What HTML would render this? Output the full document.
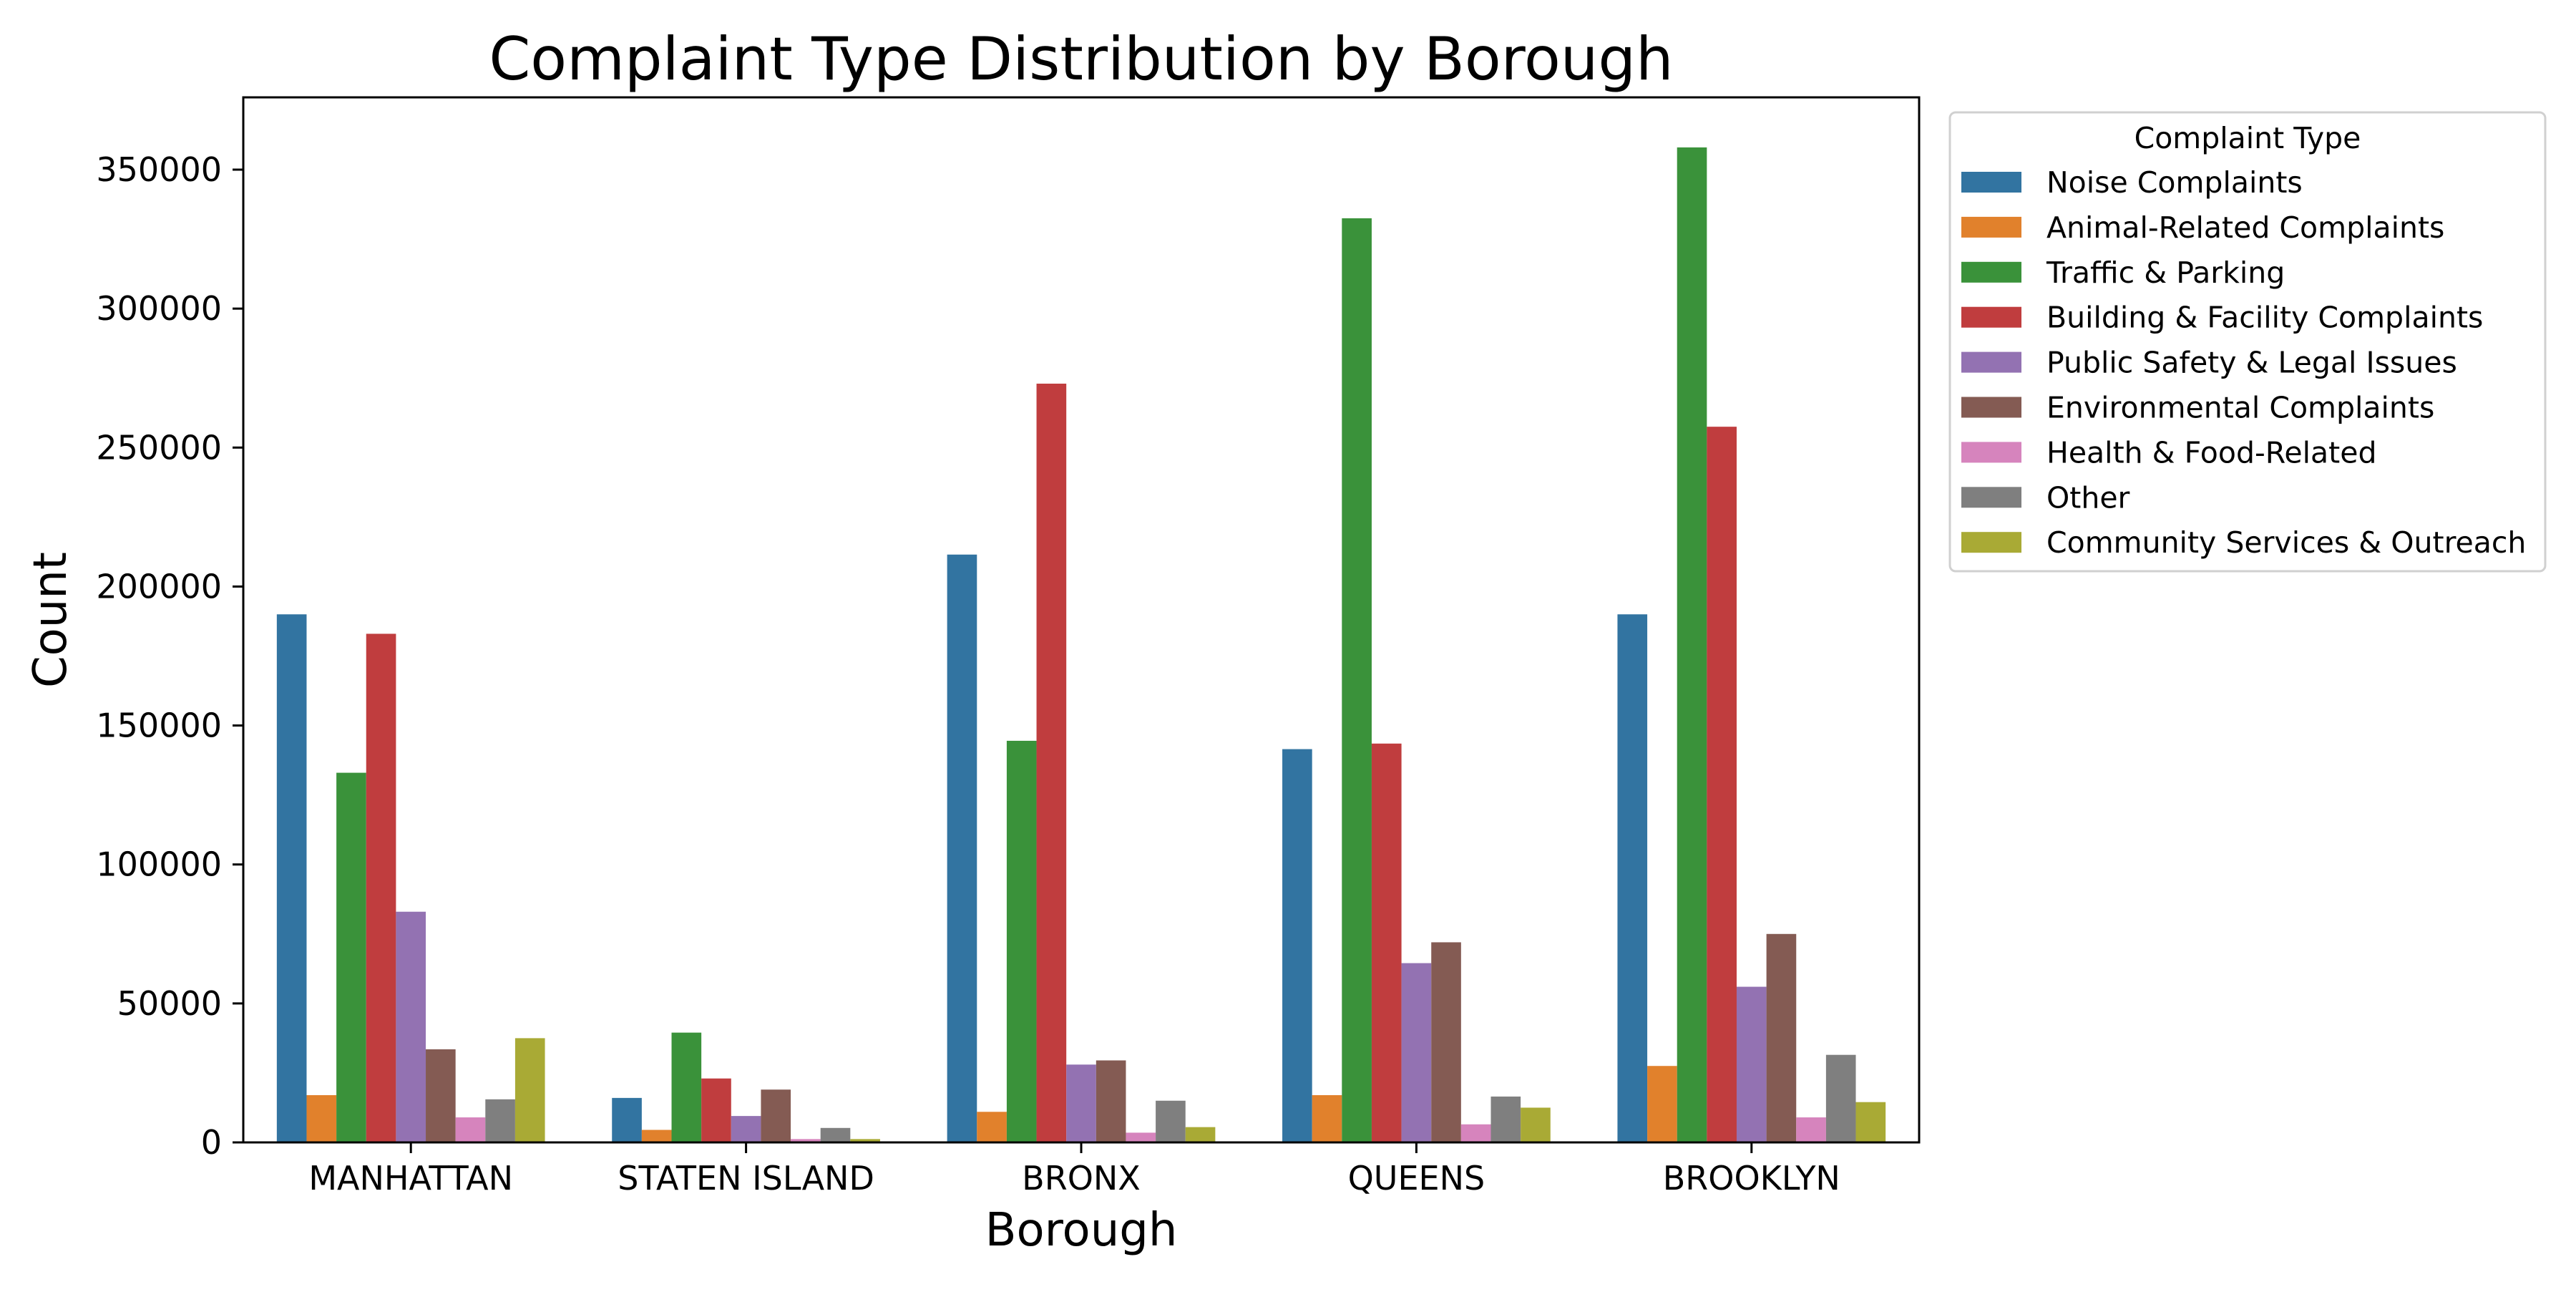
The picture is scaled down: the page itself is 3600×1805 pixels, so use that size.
<!DOCTYPE html>
<html><head><meta charset="utf-8"><style>
body{margin:0;background:#fff}
svg text{font-family:"DejaVu Sans","Liberation Sans",sans-serif;fill:#000}
</style></head><body>
<svg id="chart" width="3600" height="1800" xmlns="http://www.w3.org/2000/svg">
<rect width="3600" height="1800" fill="#fff"/>
<text x="1511" y="111" font-size="83" text-anchor="middle">Complaint Type Distribution by Borough</text>
<g id="bars"></g>
<g id="axes"></g>
<text x="1511" y="1740" font-size="64" text-anchor="middle">Borough</text>
<text transform="translate(92,866) rotate(-90)" font-size="64" text-anchor="middle">Count</text>
<g id="legend"></g>
</svg>
<script>
const boroughs = ["MANHATTAN","STATEN ISLAND","BRONX","QUEENS","BROOKLYN"];
const types = ["Noise Complaints","Animal-Related Complaints","Traffic & Parking","Building & Facility Complaints","Public Safety & Legal Issues","Environmental Complaints","Health & Food-Related","Other","Community Services & Outreach"];
const colors = ["#3274a1","#e1812c","#3a923a","#c03d3e","#9372b2","#845b53","#d684bd","#7f7f7f","#a9aa35"];
const noise = [190000,16000,211500,141500,190000];
const animal = [17000,4500,11000,17000,27500];
const traffic = [133000,39500,144500,332500,358000];
const building = [183000,23000,273000,143500,257500];
const safety = [83000,9500,28000,64500,56000];
const environ = [33500,19000,29500,72000,75000];
const health = [9000,1200,3500,6500,9000];
const other = [15500,5200,15000,16500,31500];
const community = [37500,1200,5500,12500,14500];
const yTicks = [0,50000,100000,150000,200000,250000,300000,350000];

const series = [noise,animal,traffic,building,safety,environ,health,other,community];
const NS="http://www.w3.org/2000/svg";
const L=340,R=2682,T=136,B=1596;
const y0px=1596, yPerUnit=(1596-237)/350000;
function yScale(v){return y0px - v*yPerUnit;}
const groupW=(R-L)/5, x0=L+groupW/2;
function xScale(i){return x0 + i*groupW;}
const barW=groupW*0.8/9;
function mk(tag,attrs,parent){const e=document.createElementNS(NS,tag);for(const k in attrs)e.setAttribute(k,attrs[k]);parent.appendChild(e);return e;}

const bars=document.getElementById('bars');
series.forEach((s,j)=>{
  s.forEach((v,i)=>{
    const x=xScale(i)-groupW*0.4+j*barW;
    const r=mk('rect',{x:x,y:yScale(v),width:barW,height:yScale(0)-yScale(v),fill:colors[j]},bars);
    
    
  });
});

const axes=document.getElementById('axes');
const frame=mk('rect',{x:L,y:T,width:R-L,height:B-T,fill:'none',stroke:'#000','stroke-width':3},axes);


yTicks.forEach(t=>{
  const yy=yScale(t);
  const ln=mk('line',{x1:L-15,x2:L,y1:yy,y2:yy,stroke:'#000','stroke-width':3},axes);
  
  
  const tx=mk('text',{x:L-30,y:yy+16,'font-size':46,'text-anchor':'end'},axes);
  tx.textContent=t;
  
  
});
boroughs.forEach((b,i)=>{
  const xx=xScale(i);
  const ln=mk('line',{x1:xx,x2:xx,y1:B,y2:B+15,stroke:'#000','stroke-width':3},axes);
  
  
  const tx=mk('text',{x:xx,y:1662,'font-size':46,'text-anchor':'middle'},axes);
  tx.textContent=b;
  
  
});

const lg=document.getElementById('legend');
const box=mk('rect',{x:2725,y:157,width:832,height:641,rx:8,fill:'#fff',stroke:'#d0d0d0','stroke-width':3},lg);


const lt=mk('text',{x:3141,y:207,'font-size':41,'text-anchor':'middle'},lg);
lt.textContent='Complaint Type';


types.forEach((t,j)=>{
  const yy=240+j*62.9;
  const p=mk('rect',{x:2741,y:yy,width:84,height:29,fill:colors[j]},lg);
  
  
  const tx=mk('text',{x:2860,y:yy+29,'font-size':41},lg);
  tx.textContent=t;
  
  
});
</script>
</body></html>
